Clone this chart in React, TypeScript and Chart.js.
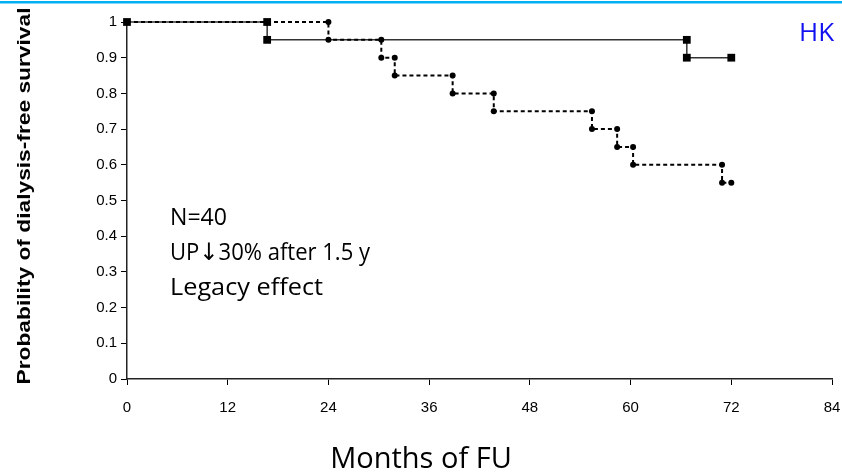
import React, { useEffect, useRef } from "react";
import { Chart, registerables } from "chart.js";

Chart.register(...registerables);

// Solid series (squares): Kaplan-Meier step points (months, survival)
const solidTimes = [0, 16.7, 16.7, 66.7, 66.7, 72];
const solidSurv = [1, 1, 0.95, 0.95, 0.9, 0.9];

// Dashed series (circles)
const dashedTimes = [0, 24, 24, 30.3, 30.3, 31.9, 31.9, 38.8, 38.8, 43.7, 43.7, 55.4, 55.4, 58.4, 58.4, 60.3, 60.3, 70.9, 70.9, 72];
const dashedSurv = [1, 1, 0.95, 0.95, 0.9, 0.9, 0.85, 0.85, 0.8, 0.8, 0.75, 0.75, 0.7, 0.7, 0.65, 0.65, 0.6, 0.6, 0.55, 0.55];

const xTicks = [0, 12, 24, 36, 48, 60, 72, 84];
const yTicks = [0, 0.1, 0.2, 0.3, 0.4, 0.5, 0.6, 0.7, 0.8, 0.9, 1];

const annotationLine1 = "N=40";
const annotationLine2 = ["UP", "\u2193", "30% after 1.5 y"];
const annotationLine3 = "Legacy effect";
const cornerLabel = "HK";
const xTitle = "Months of FU";
const yTitle = "Probability of dialysis-free survival";

const MAIN_FONT = "23px 'Open Sans'";
const ARROW_FONT = "24px 'DejaVu Sans'";

function drawRuns(ctx: any, runs: { t: string; f: string }[], x: number, y: number, targetW: number) {
  let total = 0;
  const ws = runs.map((r) => {
    ctx.font = r.f;
    const w = ctx.measureText(r.t).width;
    total += w;
    return w;
  });
  const s = targetW / total;
  ctx.save();
  ctx.translate(x, y);
  ctx.scale(s, 1);
  let cx = 0;
  runs.forEach((r, i) => {
    ctx.font = r.f;
    ctx.fillText(r.t, cx, 0);
    cx += ws[i];
  });
  ctx.restore();
}

const decorPlugin = {
  id: "decor",
  beforeDraw(chart: any) {
    const ctx = chart.ctx;
    ctx.save();
    ctx.fillStyle = "#ffffff";
    ctx.fillRect(0, 0, chart.width, chart.height);
    ctx.fillStyle = "#00b0f0";
    ctx.fillRect(0, 1, chart.width, 2.5);
    ctx.restore();
  },
  afterDraw(chart: any) {
    const ctx = chart.ctx;
    ctx.save();
    ctx.fillStyle = "#000000";
    ctx.textBaseline = "alphabetic";
    ctx.textAlign = "left";
    drawRuns(ctx, [{ t: annotationLine1, f: MAIN_FONT }], 170, 225, 57);
    drawRuns(
      ctx,
      [
        { t: annotationLine2[0], f: MAIN_FONT },
        { t: annotationLine2[1], f: ARROW_FONT },
        { t: annotationLine2[2], f: MAIN_FONT },
      ],
      170,
      260,
      200
    );
    drawRuns(ctx, [{ t: annotationLine3, f: MAIN_FONT }], 170, 295, 153);
    ctx.fillStyle = "#1010f0";
    ctx.font = "26px 'Open Sans'";
    ctx.fillText(cornerLabel, 799, 41);
    ctx.fillStyle = "#000000";
    ctx.font = "29px 'Open Sans'";
    ctx.textAlign = "center";
    ctx.fillText(xTitle, 421, 468);
    ctx.save();
    ctx.translate(25, 196);
    ctx.rotate(-Math.PI / 2);
    ctx.font = "bold 19px 'Liberation Sans'";
    ctx.textAlign = "center";
    ctx.textBaseline = "middle";
    const w = ctx.measureText(yTitle).width;
    ctx.scale(377 / w, 1);
    ctx.fillText(yTitle, 0, 0);
    ctx.restore();
    ctx.restore();
  },
};

export default function App() {
  const ref = useRef<HTMLCanvasElement>(null);
  useEffect(() => {
    if (!ref.current) return;
    const chart = new Chart(ref.current, {
      type: "line",
      data: {
        datasets: [
          {
            data: dashedTimes.map((t, i) => ({ x: t, y: dashedSurv[i] })),
            borderColor: "#000000",
            borderWidth: 2,
            borderDash: [4, 3],
            pointStyle: "circle",
            pointRadius: 3,
            pointBorderWidth: 0,
            pointBackgroundColor: "#000000",
            fill: false,
            tension: 0,
            clip: false,
          },
          {
            data: solidTimes.map((t, i) => ({ x: t, y: solidSurv[i] })),
            borderColor: "#333333",
            borderWidth: 1.5,
            pointStyle: "rect",
            pointRadius: 5.5,
            pointBorderWidth: 0,
            pointBackgroundColor: "#000000",
            fill: false,
            tension: 0,
            clip: false,
          },
        ],
      },
      options: {
        animation: false,
        responsive: false,
        devicePixelRatio: 1,
        layout: { padding: { top: 22, right: 10, left: 0, bottom: 0 } },
        plugins: { legend: { display: false }, tooltip: { enabled: false } },
        scales: {
          x: {
            type: "linear",
            min: 0,
            max: 84,
            afterBuildTicks: (s: any) => { s.ticks = xTicks.map((v) => ({ value: v })); },
            afterFit: (s: any) => { s.height = 95; s.paddingRight = 0; s.paddingLeft = 0; },
            grid: { display: true, drawOnChartArea: false, drawTicks: true, tickLength: 6, tickColor: "#000", tickWidth: 1 },
            border: { display: true, color: "#222", width: 1.5 },
            ticks: { color: "#000", font: { family: "'Liberation Sans'", size: 15 }, padding: 14, maxRotation: 0, autoSkip: false },
          },
          y: {
            type: "linear",
            min: 0,
            max: 1,
            afterBuildTicks: (s: any) => { s.ticks = yTicks.map((v) => ({ value: v })); },
            afterFit: (s: any) => { s.width = 127; s.paddingTop = 0; s.paddingBottom = 0; },
            grid: { display: true, drawOnChartArea: false, drawTicks: true, tickLength: 6, tickColor: "#000", tickWidth: 1 },
            border: { display: true, color: "#222", width: 1.5 },
            ticks: {
              color: "#000",
              font: { family: "'Liberation Sans'", size: 15 },
              padding: 4,
              autoSkip: false,
              callback: (v: any) => String(Math.round(Number(v) * 10) / 10),
            },
          },
        },
      },
      plugins: [decorPlugin],
    });
    return () => chart.destroy();
  }, []);
  return (
    <div style={{ position: "absolute", left: 0, top: 0, width: 842, height: 474 }}>
      <canvas ref={ref} width={842} height={474} style={{ width: 842, height: 474 }} />
    </div>
  );
}
